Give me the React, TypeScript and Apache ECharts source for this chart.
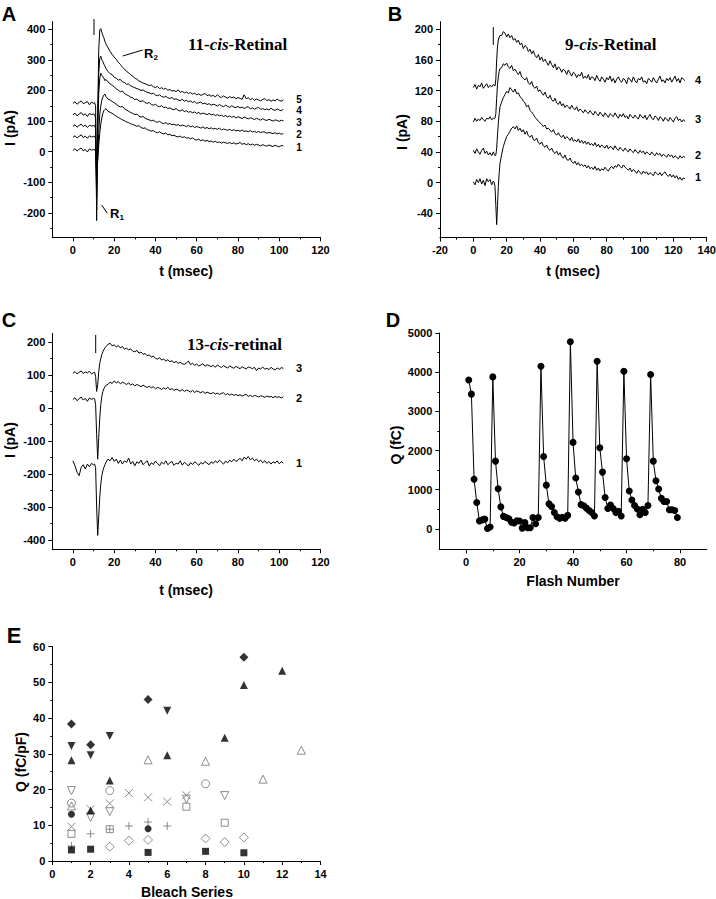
import React, { useEffect, useRef } from "react";
import * as echarts from "echarts";

function seq(a: number, b: number, s: number): number[] {
  const out: number[] = [];
  const n = Math.round((b - a) / s);
  for (let i = 0; i <= n; i++) out.push(+(a + i * s).toFixed(2));
  return out;
}

// sample times (ms)
const timeAC = [...seq(0, 10, 1), ...seq(10.5, 16, 0.5), ...seq(17, 102, 1)];
const timeB = [...seq(0, 12, 1), ...seq(12.5, 16, 0.5), ...seq(17, 127, 1)];

// Panel A: 11-cis-Retinal (pA)
const a5 = [158,163,155,161,166,157,160,164,153,162,158, 160,150,-225,120,330,398,402,390,380,372,360,352,
  340,328,318,309,302,292,285,276,270,262, 258,251,247,240,237,231,228,224,222,219, 216,218,212,210,213,206,209,204,207,201,
  203,198,200,196,202,194,197,192,195,190, 193,188,191,186,189,184,187,190,183,186, 181,184,179,186,180,177,182,178,175,180,
  176,179,173,177,174,171,186,173,176,170, 174,168,172,169,166,171,173,167,170,165, 169,166,172,167,165,169];
const a4 = [120,126,117,123,128,119,124,115,125,121,123, 122,110,-190,90,255,305,312,300,295,286,280,272,
  262,255,252,243,240,234,236,228,226,220, 221,215,212,209,206,204,200,202,197,194, 192,189,191,185,183,186,180,178,181,176,
  174,177,171,173,169,167,171,165,168,163, 166,161,164,158,160,162,156,159,154,157, 152,155,153,149,154,150,147,152,148,145,
  150,146,144,148,143,146,141,145,147,140, 143,139,142,145,138,141,137,140,136,142, 137,135,140,136,134,139];
const a3 = [83,88,80,86,90,82,87,79,86,84,85, 86,75,-150,60,190,240,256,250,245,240,232,236,
  228,222,217,212,205,201,196,198,190,186, 183,178,176,170,172,166,164,167,160,158, 161,154,152,155,149,147,150,144,146,141,
  143,139,137,141,135,133,137,131,134,129, 131,127,130,125,128,123,126,124,121,125, 120,123,118,121,117,119,115,118,114,117,
  112,116,110,114,112,108,113,110,107,111, 108,105,109,106,103,108,104,102,106,103, 100,104,102,99,103,101];
const a2 = [47,52,45,50,55,46,51,44,52,48,50, 50,42,-110,-20,60,120,150,168,178,185,188,180,
  172,169,164,160,155,150,146,148,140,136, 132,128,125,121,123,116,113,115,109,106, 104,101,103,98,96,99,94,92,95,90,
  92,88,90,86,89,84,87,85,82,86, 81,84,79,82,80,77,81,76,79,75, 78,74,76,73,77,71,74,72,70,73,
  69,72,68,70,67,71,66,68,65,69, 64,67,63,66,62,65,64,60,63,61, 59,62,58,61,57,59];
const a1 = [4,10,2,8,12,3,7,-1,9,5,7, 8,0,-70,-30,20,60,90,110,125,134,138,141,
  132,129,125,121,116,112,108,104,101,97, 95,91,89,86,83,85,79,76,78,72, 70,67,69,64,62,65,60,58,61,55,
  57,52,54,50,48,51,46,49,44,46, 42,45,40,38,41,36,39,34,37,33, 35,31,34,30,32,28,31,29,27,30,
  26,29,25,27,30,24,27,23,26,22, 25,21,24,22,19,23,20,18,22,19, 17,21,18,16,20,19];

// Panel B: 9-cis-Retinal (pA)
const b4 = [124,128,122,127,125,130,123,126,129,124,127,125,128, 127,126,135,160,178,186,190,192,
  192,197,195,190,194,189,192,186,188,183, 186,180,182,175,179,177,171,174,168,172, 166,163,167,160,164,158,161,157,153,159,
  154,150,155,147,151,149,144,148,146,141, 147,143,139,144,142,137,141,139,144,136, 139,136,141,134,138,137,133,140,135,132,
  138,135,131,137,134,139,132,136,130,135, 138,133,131,136,134,129,137,135,131,138, 133,130,136,134,138,131,133,129,136,134,
  131,137,133,130,135,139,132,134,130,136, 133,137,131,135,139,132,136,130,137,135, 133];
const b3 = [79,84,80,83,81,85,82,80,84,83,86,82,84, 83,84,90,110,128,138,145,149,
  150,155,153,156,151,149,153,146,148,144, 141,145,138,136,134,137,130,128,132,125, 123,126,119,121,117,114,118,112,110,114,
  108,106,110,104,102,106,100,103,98,101, 99,96,101,97,95,99,93,96,94,91, 95,92,90,94,91,88,93,90,87,92,
  89,86,91,88,85,90,88,86,91,87, 84,89,86,90,85,87,83,89,86,84, 88,85,83,89,86,84,88,82,86,89,
  84,82,87,85,81,86,84,80,85,83, 80,85,82,79,84,86,81,83,79,82, 80];
const b2 = [42,38,44,40,37,42,45,38,41,36,39,35,40, 37,35,36,45,62,78,90,99,
  105,111,115,119,117,124,121,118,122,116, 117,112,110,106,104,99,101,94,92,89, 85,83,80,78,76,73,75,70,71,68,
  66,69,64,62,65,61,59,62,57,60, 58,55,59,54,56,53,57,52,55,51, 54,50,53,49,51,48,52,47,50,46,
  49,47,45,49,44,47,46,43,48,44, 42,46,43,41,45,42,40,44,41,39, 43,40,38,42,39,41,37,40,38,36,
  40,37,35,39,36,38,34,37,35,33, 37,34,36,32,35,33,31,35,32,34, 33];
const b1 = [1,-3,4,0,5,-2,3,-4,5,1,4,-3,2, 0,-5,-30,-55,-30,-5,12,25,
  37,47,54,60,63,67,71,73,70,74, 68,71,66,69,63,67,61,59,62,56, 55,58,52,50,53,48,46,49,44,42,
  45,40,38,41,36,39,34,32,36,30, 29,32,27,25,28,23,26,22,24,21, 23,19,22,18,20,17,21,16,19,15,
  18,16,20,17,15,19,21,18,22,20, 24,21,19,23,20,18,16,19,14,17, 15,12,16,13,11,15,12,14,10,13,
  11,9,14,12,10,13,9,12,14,10, 8,11,7,10,6,9,4,7,3,6, 5];

// Panel C: 13-cis-retinal (pA)
const c3 = [105,110,103,108,112,104,109,106,111,103,107, 108,95,50,70,110,135,150,162,170,177,182,186,
  192,196,188,191,185,189,182,186,178,181, 176,179,172,170,174,166,169,162,165,158, 161,154,157,150,148,152,145,148,142,146,
  140,143,137,141,135,138,134,132,136,142, 131,135,129,133,127,130,134,126,131,128, 125,129,123,130,126,122,128,124,121,127,
  123,120,126,122,119,125,121,118,124,122, 119,123,113,121,118,124,117,120,116,123, 118,115,121,117,122,120];
const c2 = [25,31,22,28,33,24,29,20,30,26,29, 28,10,-80,-155,-90,-30,10,35,50,58,65,68,
  72,78,74,82,76,80,73,78,75,71, 76,69,73,67,71,68,64,69,65,62, 66,61,64,58,62,60,56,61,57,63,
  55,59,53,57,54,51,56,50,54,52, 48,53,47,51,49,46,50,44,48,45, 43,47,42,45,41,44,46,40,43,39,
  42,38,41,37,40,36,39,41,35,38, 34,38,36,33,37,35,32,36,33,35, 31,35,32,34,30,34];
const c1 = [-160,-175,-195,-205,-180,-172,-185,-170,-178,-168,-172, -170,-180,-300,-386,-330,-270,-230,-205,-190,-180,-172,-165,
  -155,-160,-150,-162,-155,-168,-158,-170,-160,-165, -152,-170,-162,-175,-163,-168,-158,-172,-165,-160,
  -176,-166,-171,-161,-168,-175,-164,-170,-160,-172, -166,-162,-174,-167,-170,-160,-173,-165,-169,-176,
  -166,-171,-163,-168,-174,-165,-170,-162,-167,-172, -163,-168,-160,-166,-158,-164,-170,-161,-166,-158,
  -163,-155,-162,-158,-152,-160,-149,-155,-147,-157, -152,-160,-155,-163,-158,-166,-160,-168,-162,-170,
  -163,-167,-160,-169,-163,-167];

// Panel D: charge per flash (fC)
const flashQ = [3800,3440,1270,673,205,230,250,10,50,3880, 1730,1023,563,320,290,260,170,150,210,200,
  20,160,30,30,290,130,290,4150,1850,1117, 640,570,420,310,270,300,270,345,4775,2208,
  1300,940,620,590,530,470,420,330,4280,2070, 1450,800,520,610,520,420,450,330,4025,1790,
  970,740,600,510,360,500,420,600,3940,1730, 1230,1020,780,700,700,490,490,470,290];
const flashNum = flashQ.map((_, i) => i + 1);

// Panel E: Q (fC/pF) vs bleach series, one list per cell
const eFilledDiamondX = [1, 2, 5, 10];
const eFilledDiamondY = [38.3, 32.5, 45.2, 57.0];
const eFilledDownX = [1, 2, 3, 6];
const eFilledDownY = [32.2, 29.6, 35.0, 42.0];
const eFilledUpX = [1, 2, 3, 6, 9, 10, 12];
const eFilledUpY = [28.2, 14.1, 22.5, 29.6, 34.5, 49.2, 53.2];
const eOpenUpX = [1, 5, 8, 11, 13];
const eOpenUpY = [15.4, 28.3, 27.9, 22.9, 31.0];
const eOpenCircleX = [1, 3, 8];
const eOpenCircleY = [16.2, 19.7, 21.6];
const eFilledCircleX = [1, 5];
const eFilledCircleY = [13.1, 9.0];
const eOpenDownX = [1, 2, 3, 7, 9];
const eOpenDownY = [19.7, 12.2, 13.8, 17.3, 18.3];
const eCrossX = [1, 2, 3, 4, 5, 6, 7];
const eCrossY = [9.6, 14.5, 16.1, 19.0, 17.8, 16.6, 18.4];
const eOpenSquareX = [1, 7, 9];
const eOpenSquareY = [7.6, 15.2, 10.7];
const eSquarePlusX = [3];
const eSquarePlusY = [8.9];
const ePlusX = [1, 2, 4, 5, 6];
const ePlusY = [4.2, 7.6, 9.8, 10.9, 9.8];
const eOpenDiamondX = [3, 4, 5, 8, 9, 10];
const eOpenDiamondY = [4.0, 5.7, 5.9, 6.3, 5.3, 6.6];
const eFilledSquareX = [1, 2, 5, 8, 10];
const eFilledSquareY = [3.1, 3.3, 2.4, 2.7, 2.3];

// tick values
const tMajorAC = [0, 20, 40, 60, 80, 100, 120];
const tMinorAC = [10, 30, 50, 70, 90, 110];
const yMajorA = [-200, -100, 0, 100, 200, 300, 400];
const yMinorA = [-250, -150, -50, 50, 150, 250, 350];
const tMajorB = [-20, 0, 20, 40, 60, 80, 100, 120, 140];
const tMinorB = [-10, 10, 30, 50, 70, 90, 110, 130];
const yMajorB = [-40, 0, 40, 80, 120, 160, 200];
const yMinorB = [-60, -20, 20, 60, 100, 140, 180];
const yMajorC = [-400, -300, -200, -100, 0, 100, 200];
const yMinorC = [-350, -250, -150, -50, 50, 150];
const xMajorD = [0, 20, 40, 60, 80];
const xMinorD = [10, 30, 50, 70];
const yMajorD = [0, 1000, 2000, 3000, 4000, 5000];
const yMinorD = [500, 1500, 2500, 3500, 4500];
const xMajorE = [0, 2, 4, 6, 8, 10, 12, 14];
const xMinorE = [1, 3, 5, 7, 9, 11, 13];
const yMajorE = [0, 10, 20, 30, 40, 50, 60];
const yMinorE = [5, 15, 25, 35, 45, 55];

const SANS = "'Liberation Sans', Arial, Helvetica, sans-serif";
const SERIF = "'Liberation Serif', 'Times New Roman', serif";

function axisPair(dim: "x" | "y", gridIndex: number, min: number, max: number, major: number[], minor: number[]) {
  const base: any = {
    type: "value", gridIndex, min, max, position: dim === "x" ? "bottom" : "left",
    splitLine: { show: false }, splitArea: { show: false },
  };
  return [
    {
      ...base,
      axisLine: { show: true, onZero: false, lineStyle: { color: "#000", width: 1 } },
      axisTick: { show: true, inside: false, length: 4, customValues: major, lineStyle: { color: "#000", width: 1 } },
      axisLabel: {
        show: true, customValues: major, margin: 7, color: "#000",
        fontFamily: SANS, fontWeight: "bold", fontSize: 11, formatter: (v: number) => String(v),
      },
    },
    {
      ...base,
      axisLine: { show: false, onZero: false },
      axisTick: { show: true, inside: false, length: 2, customValues: minor, lineStyle: { color: "#000", width: 1 } },
      axisLabel: { show: false },
    },
  ];
}

const traceSeries = (t: number[], v: number[], axis: number) => ({
  type: "line", xAxisIndex: axis, yAxisIndex: axis, data: t.map((x, i) => [x, v[i]]),
  symbol: "none", showSymbol: false, silent: true, lineStyle: { color: "#000", width: 1 },
});

const scatterSeries = (xs: number[], ys: number[], symbol: string, size: number, filled: boolean, rotate = 0) => ({
  type: "scatter", xAxisIndex: 8, yAxisIndex: 8, data: xs.map((x, i) => [x, ys[i]]),
  symbol, symbolSize: size, symbolRotate: rotate, silent: true,
  itemStyle: filled
    ? { color: "#000", borderColor: "#000", borderWidth: 0 }
    : { color: "rgba(255,255,255,0)", borderColor: "#707070", borderWidth: 1 },
});

const CROSS = "path://M0,0L10,10M10,0L0,10";
const PLUS = "path://M5,0L5,10M0,5L10,5";
const SQPLUS = "path://M0,0L10,0L10,10L0,10Z M5,0L5,10 M0,5L10,5";

const text = (x: number, y: number, s: string, size: number, extra: any = {}) => ({
  type: "text", x, y, silent: true, ...extra.el,
  style: {
    text: s, fill: "#000", fontFamily: SANS, fontWeight: "bold", fontSize: size,
    align: "center", verticalAlign: "middle", ...extra.style,
  },
});

const titleRich = (x: number, y: number, pre: string, post: string) => ({
  type: "text", x, y, silent: true,
  style: {
    text: `{n|${pre}}{i|cis}{n|${post}}`, align: "left", verticalAlign: "middle",
    rich: {
      n: { fontFamily: SERIF, fontWeight: "bold", fontSize: 17, fill: "#000", color: "#000" },
      i: { fontFamily: SERIF, fontWeight: "bold", fontStyle: "italic", fontSize: 17, fill: "#000", color: "#000" },
    },
  },
});

const line = (x1: number, y1: number, x2: number, y2: number) => ({
  type: "line", silent: true, shape: { x1, y1, x2, y2 }, style: { stroke: "#000", lineWidth: 1 },
});

const rLabel = (x: number, y: number, sub: string) => ({
  type: "text", x, y, silent: true,
  style: {
    text: `{r|R}{s|${sub}}`, align: "left", verticalAlign: "middle",
    rich: {
      r: { fontFamily: SANS, fontWeight: "bold", fontSize: 13, fill: "#000", color: "#000" },
      s: { fontFamily: SANS, fontWeight: "bold", fontSize: 8, fill: "#000", color: "#000", padding: [8, 0, 0, 0] },
    },
  },
});

const option: any = {
  animation: false,
  backgroundColor: "#fff",
  grid: [
    { left: 52.3, top: 21.6, width: 268.2, height: 215.8, outerBoundsMode: "none" },
    { left: 440, top: 21.7, width: 266.7, height: 216, outerBoundsMode: "none" },
    { left: 52.3, top: 333.3, width: 268.2, height: 216, outerBoundsMode: "none" },
    { left: 439.3, top: 333, width: 267.5, height: 216.3, outerBoundsMode: "none" },
    { left: 52.3, top: 646.5, width: 268.2, height: 214.5, outerBoundsMode: "none" },
  ],
  xAxis: [
    ...axisPair("x", 0, -10, 120, tMajorAC, tMinorAC),
    ...axisPair("x", 1, -20, 140, tMajorB, tMinorB),
    ...axisPair("x", 2, -10, 120, tMajorAC, tMinorAC),
    ...axisPair("x", 3, -10, 90, xMajorD, xMinorD),
    ...axisPair("x", 4, 0, 14, xMajorE, xMinorE),
  ],
  yAxis: [
    ...axisPair("y", 0, -280, 425, yMajorA, yMinorA),
    ...axisPair("y", 1, -72, 210, yMajorB, yMinorB),
    ...axisPair("y", 2, -428, 226, yMajorC, yMinorC),
    ...axisPair("y", 3, -520, 5000, yMajorD, yMinorD),
    ...axisPair("y", 4, 0, 60, yMajorE, yMinorE),
  ],
  series: [
    traceSeries(timeAC, a1, 0), traceSeries(timeAC, a2, 0), traceSeries(timeAC, a3, 0),
    traceSeries(timeAC, a4, 0), traceSeries(timeAC, a5, 0),
    traceSeries(timeB, b1, 2), traceSeries(timeB, b2, 2), traceSeries(timeB, b3, 2), traceSeries(timeB, b4, 2),
    traceSeries(timeAC, c1, 4), traceSeries(timeAC, c2, 4), traceSeries(timeAC, c3, 4),
    {
      type: "line", xAxisIndex: 6, yAxisIndex: 6, data: flashNum.map((n, i) => [n, flashQ[i]]),
      symbol: "circle", symbolSize: 7, showSymbol: true, silent: true,
      itemStyle: { color: "#000" }, lineStyle: { color: "#000", width: 1 },
    },
    scatterSeries(eOpenSquareX, eOpenSquareY, "rect", 7, false),
    scatterSeries(eSquarePlusX, eSquarePlusY, SQPLUS, 7, false),
    scatterSeries(ePlusX, ePlusY, PLUS, 8, false),
    scatterSeries(eCrossX, eCrossY, CROSS, 8, false),
    scatterSeries(eOpenDiamondX, eOpenDiamondY, "diamond", 9, false),
    scatterSeries(eOpenCircleX, eOpenCircleY, "circle", 8, false),
    scatterSeries(eOpenUpX, eOpenUpY, "triangle", 8, false),
    scatterSeries(eOpenDownX, eOpenDownY, "triangle", 8, false, 180),
    scatterSeries(eFilledSquareX, eFilledSquareY, "rect", 7, true),
    scatterSeries(eFilledCircleX, eFilledCircleY, "circle", 7, true),
    scatterSeries(eFilledUpX, eFilledUpY, "triangle", 8, true),
    scatterSeries(eFilledDownX, eFilledDownY, "triangle", 8, true, 180),
    scatterSeries(eFilledDiamondX, eFilledDiamondY, "diamond", 9, true),
  ],
  graphic: [
    // panel letters
    text(9, 14, "A", 20),
    text(395, 14, "B", 20),
    text(9, 320, "C", 20),
    text(393, 320, "D", 20),
    text(14, 635, "E", 22),
    // titles
    titleRich(188, 44, "11-", "-Retinal"),
    titleRich(565, 44, "9-", "-Retinal"),
    titleRich(187, 344, "13-", "-retinal"),
    // axis titles
    text(186, 271, "t (msec)", 14),
    text(10, 128, "I (pA)", 14, { el: { rotation: Math.PI / 2 } }),
    text(573, 271, "t (msec)", 14),
    text(402, 132, "I (pA)", 14, { el: { rotation: Math.PI / 2 } }),
    text(186, 590, "t (msec)", 14),
    text(10, 440, "I (pA)", 14, { el: { rotation: Math.PI / 2 } }),
    text(573, 581, "Flash Number", 14),
    text(396, 445, "Q (fC)", 14, { el: { rotation: Math.PI / 2 } }),
    text(187, 892, "Bleach Series", 14),
    text(21, 762, "Q (fC/pF)", 14, { el: { rotation: Math.PI / 2 } }),
    // trace numbers
    text(299, 99, "5", 10), text(299, 110.5, "4", 10), text(299, 122, "3", 10), text(299, 134, "2", 10), text(299, 147, "1", 10),
    text(698, 80, "4", 11), text(698, 119, "3", 11), text(698, 155, "2", 11), text(698, 177, "1", 11),
    text(299, 368, "3", 11), text(299, 398, "2", 11), text(299, 463, "1", 11),
    // stimulus markers
    line(94, 19, 94, 35),
    line(493.3, 27, 493.3, 45),
    line(95.7, 335, 95.7, 353),
    // R1 / R2
    line(122.7, 56, 142.7, 50),
    rLabel(144, 53, "2"),
    line(101.7, 205, 107.3, 213.3),
    rLabel(110, 213, "1"),
  ],
};

export default function App() {
  const ref = useRef<HTMLDivElement>(null);
  useEffect(() => {
    const chart = echarts.init(ref.current!, null, { renderer: "svg" });
    chart.setOption(option);
    return () => chart.dispose();
  }, []);
  return (
    <div
      ref={ref}
      style={{ position: "absolute", left: 0, top: 0, width: 716, height: 899, background: "#fff" }}
    />
  );
}
